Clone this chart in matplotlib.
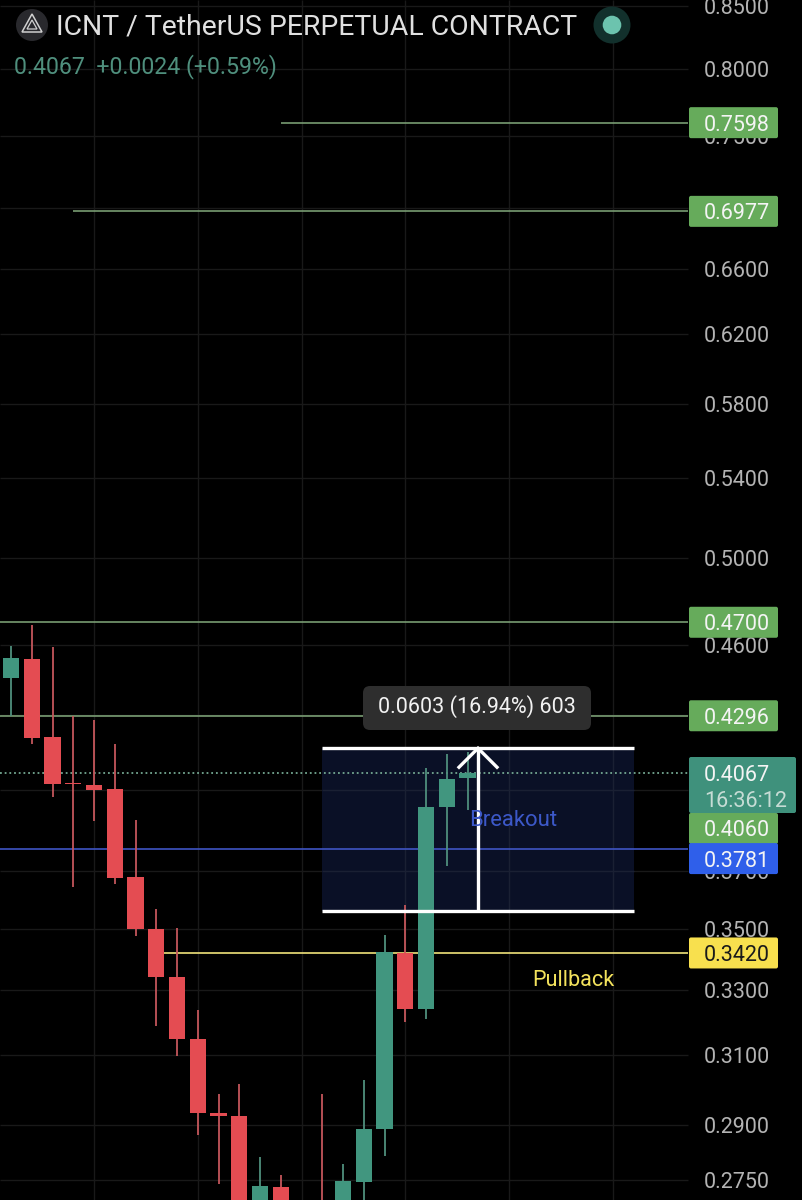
import numpy as np
import matplotlib
matplotlib.use("Agg")
import matplotlib.pyplot as plt
from matplotlib.patches import FancyBboxPatch, Circle, Polygon, Rectangle

plt.rcParams['font.family'] = ['Roboto', 'DejaVu Sans']

# ---- data -------------------------------------------------------------
candle_index = [0, 1, 2, 3, 4, 5, 6, 7, 8, 9, 10, 11, 12, 13, 14, 15, 16, 17, 18, 19, 20, 21, 22]
opens  = [.4454, .4536, .4209, .4027, .4018, .4003, .3679, .3499, .3341, .3148, .2932, .2923, .2640, .2730, .2660, .2650, .2640, .2743, .2887, .3420, .3240, .3934, .4046]
closes = [.4541, .4205, .4023, .4023, .3999, .3675, .3499, .3341, .3148, .2932, .2923, .2650, .2733, .2660, .2650, .2640, .2746, .2887, .3422, .3240, .3934, .4042, .4067]
highs  = [.4594, .4687, .4589, .4294, .4278, .4180, .3886, .3567, .3503, .3237, .2986, .3014, .2810, .2762, .2680, .2986, .2791, .3026, .3478, .3581, .4085, .4140, .4148]
lows   = [.4294, .4180, .3973, .3644, .3882, .3654, .3475, .3187, .3097, .2870, .2739, .2600, .2600, .2600, .2600, .2600, .2600, .2640, .2813, .3200, .3209, .3718, .3923]

grid_prices = [.85, .80, .75, .70, .66, .62, .58, .54, .50, .46, .43, .40, .37, .35, .33, .31, .29, .275]
tick_prices = [.85, .80, .75, .66, .62, .58, .54, .50, .46, .37, .35, .33, .31, .29, .275]
grid_columns = [4, 9, 14, 19, 24, 29]

level_prices = [.7598, .6977, .4700, .4296]
level_starts = [13, 3, -1, -1]
level_tags = ['0.7598', '0.6977', '0.4700', '0.4296']

last_price = .4067
blue_price = .3781
yellow_price = .3420
yellow_start = 7
box_low, box_high = .3561, .4164
box_left, box_right = 15, 30
arrow_col = 22.5

title = 'ICNT / TetherUS PERPETUAL CONTRACT'
subtitle = '0.4067  +0.0024 (+0.59%)'
measure = '0.0603 (16.94%) 603'

# ---- style ------------------------------------------------------------
RED, GREEN = '#e44c52', '#41967f'
RED_W, GREEN_W = '#c4565b', '#4f8f7d'
LEVEL = '#789c72'
TAG_G = '#66ab5b'
GRID = '#191919'
TICK = '#b3b3b3'
W, H = 803, 1200
STEP = 20.75
TICK_FS = 15.5


def col_x(px):
    return (px - 11) / STEP


fig = plt.figure(figsize=(8.03, 12), dpi=100, facecolor='black')
ax = fig.add_axes([0, 0, 1, 1], facecolor='black')
ax.set_yscale('log')
ax.set_xlim(col_x(0), col_x(W))
ax.set_ylim(0.2697, 0.8549)
ax.axis('off')
edge = col_x(688)

ov = fig.add_axes([0, 0, 1, 1], facecolor='none')
ov.set_xlim(0, W)
ov.set_ylim(H, 0)
ov.axis('off')


def py(price):
    return H - ax.transData.transform((0, price))[1]


# grid
ax.hlines(grid_prices, col_x(0), edge, color=GRID, lw=1.0, zorder=1)
ax.vlines(grid_columns, 0.2697, 0.8549, color=GRID, lw=1.0, zorder=1)

# box
ax.add_patch(Rectangle((box_left, box_low), box_right - box_left, box_high - box_low,
                       fc='#0a1026', ec='none', zorder=1.5))
inside = [p for p in grid_prices if box_low < p < box_high]
ax.hlines(inside, box_left, box_right, color='#1a2033', lw=1.0, zorder=1.6)
ax.vlines([c for c in grid_columns if box_left < c < box_right], box_low, box_high,
          color='#1a2033', lw=1.0, zorder=1.6)

# levels
for p, s in zip(level_prices, level_starts):
    ax.hlines(p, s, edge, color=LEVEL, lw=1.2, zorder=2)
ax.hlines(blue_price, col_x(0), edge, color='#3f55c4', lw=1.2, zorder=2)
ax.hlines(yellow_price, yellow_start, edge, color='#f0e27a', lw=1.2, zorder=2)
ax.plot([col_x(0), edge], [last_price, last_price], color='#74a892', lw=1.3,
        ls=(0, (1, 1.6)), zorder=2)

# candles
for i, o, c, h, l in zip(candle_index, opens, closes, highs, lows):
    up = c >= o
    ax.vlines(i, l, h, color=GREEN_W if up else RED_W, lw=1.3, zorder=3)
    lo, hi = min(o, c), max(o, c)
    ax.bar(i, hi - lo, bottom=lo, width=16.3 / STEP, color=GREEN if up else RED,
           lw=0, zorder=3.2)

# measure tool
ax.hlines([box_low, box_high], box_left, box_right, color='white', lw=2.4, zorder=4)
ax.vlines(arrow_col, box_low, box_high, color='white', lw=2.4, zorder=4)
ya = py(box_high)
ov.plot([459, 478, 497], [ya + 19, ya, ya + 19], color='white', lw=2.4, zorder=4,
        solid_joinstyle='miter')
ov.add_patch(FancyBboxPatch((369, 692), 216, 32, boxstyle='round,pad=6,rounding_size=7',
                            fc='#2e2e2e', ec='none', zorder=5))
ov.text(477, 707, measure, color='#f2f2f2', fontsize=15.5, ha='center', va='center', zorder=6)

ov.text(513.5, 821, 'Breakout', color='#3c58c8', fontsize=15.9, ha='center', va='center', zorder=6)
ov.text(573.5, 980, 'Pullback', color='#f3e25c', fontsize=15.6, ha='center', va='center', zorder=6)

# axis labels
for p in tick_prices:
    ov.text(704, py(p), f'{p:.4f}', color=TICK, fontsize=TICK_FS, ha='left', va='center_baseline', zorder=6)


def tag(price, text, fc, tc, right=778, half=15.5, dy=0):
    y = py(price) + dy
    ov.add_patch(FancyBboxPatch((691, y - half + 2), right - 693, 2 * half - 4,
                                boxstyle='round,pad=2,rounding_size=2', fc=fc, ec='none', zorder=7))
    ov.text(704, y, text, color=tc, fontsize=TICK_FS, ha='left', va='center_baseline', zorder=8)


for p, t in zip(level_prices, level_tags):
    tag(p, t, TAG_G, '#f4f4f4')

# stacked tags around the last price
ov.add_patch(FancyBboxPatch((691, 815), 85, 27, boxstyle='round,pad=2,rounding_size=2',
                            fc=TAG_G, ec='none', zorder=7))
ov.text(704, 828, '0.4060', color='#f4f4f4', fontsize=TICK_FS, ha='left', va='center_baseline', zorder=8)
ov.add_patch(FancyBboxPatch((691, 759), 103, 52, boxstyle='round,pad=2,rounding_size=2',
                            fc='#3f917c', ec='none', zorder=7.5))
ov.text(704, 773, '0.4067', color='#f4f4f4', fontsize=TICK_FS, ha='left', va='center_baseline', zorder=8)
ov.text(704, 799, '16:36:12', color='#c6dcd5', fontsize=TICK_FS, ha='left', va='center_baseline', zorder=8)
tag(blue_price, '0.3781', '#2f5fea', '#f4f4f4', dy=10)
tag(yellow_price, '0.3420', '#f8e04e', '#1a1a1a')

# header
ov.add_patch(Circle((32, 25), 16, fc='#29292d', ec='none', zorder=6))
ov.add_patch(Polygon([[32, 14], [42, 32], [22, 32]], closed=True, fc='none', ec='#d0d0d0', lw=1.1, zorder=7))
ov.add_patch(Polygon([[32, 20], [37, 29], [27, 29]], closed=True, fc='none', ec='#d0d0d0', lw=0.9, zorder=7))
ov.text(56, 24, title, color='#e0e0e0', fontsize=20.4, ha='left', va='center_baseline', zorder=6)
ov.text(14, 64, subtitle, color='#4f8f7d', fontsize=16.7, ha='left', va='center_baseline', zorder=6)
ov.add_patch(Circle((612, 25), 18.5, fc='#12302c', ec='none', zorder=6))
ov.add_patch(Circle((612, 25), 9.3, fc='#6cc3ae', ec='none', zorder=7))

fig.savefig('out.png', dpi=100, facecolor='black')
